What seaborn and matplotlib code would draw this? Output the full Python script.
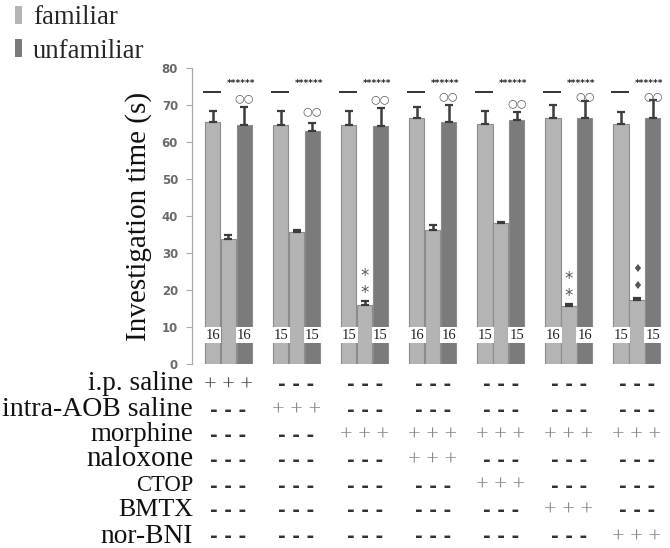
import matplotlib
matplotlib.use("Agg")
import matplotlib.pyplot as plt
import seaborn as sns
import pandas as pd
import numpy as np
from matplotlib.patches import Patch
from matplotlib.transforms import blended_transform_factory

# ---------------- data ----------------
groups = ["G1", "G2", "G3", "G4", "G5", "G6", "G7"]
conditions = ["familiar 1", "familiar 2", "unfamiliar"]
first_means = [65.3, 64.6, 64.6, 66.4, 65.0, 66.4, 64.8]
first_err = [3.2, 3.9, 3.9, 3.1, 3.5, 3.6, 3.2]
second_means = [33.8, 35.8, 15.9, 36.2, 38.0, 15.7, 17.3]
second_err = [1.2, 0.4, 1.2, 1.4, 0.3, 0.5, 0.5]
unfam_means = [64.6, 63.0, 64.3, 65.5, 66.0, 66.6, 66.4]
unfam_err = [4.8, 2.2, 4.8, 4.5, 2.0, 4.6, 5.0]
n_labels = ["16", "15", "15", "16", "15", "16", "15"]
second_marks = ["", "", "*", "", "", "*", "\u2666"]
yticks = [0, 10, 20, 30, 40, 50, 60, 70, 80]

row_labels = ["i.p. saline", "intra-AOB saline", "morphine", "naloxone",
              "CTOP", "BMTX", "nor-BNI"]
ip_saline = ["+", "-", "-", "-", "-", "-", "-"]
aob_saline = ["-", "+", "-", "-", "-", "-", "-"]
morphine = ["-", "-", "+", "+", "+", "+", "+"]
naloxone = ["-", "-", "-", "+", "-", "-", "-"]
ctop = ["-", "-", "-", "-", "+", "-", "-"]
bmtx = ["-", "-", "-", "-", "-", "+", "-"]
norbni = ["-", "-", "-", "-", "-", "-", "+"]
table_rows = [ip_saline, aob_saline, morphine, naloxone, ctop, bmtx, norbni]

LIGHT = "#b4b4b4"
DARK = "#7b7b7b"
SERIF = "Liberation Serif"

df = pd.DataFrame({
    "group": groups * 3,
    "condition": [conditions[0]] * 7 + [conditions[1]] * 7 + [conditions[2]] * 7,
    "value": first_means + second_means + unfam_means,
})
errs = [first_err, second_err, unfam_err]

sns.set_style("white")
W, H = 670, 548
fig = plt.figure(figsize=(W / 100, H / 100), dpi=100)
ax = fig.add_axes([192 / W, (H - 364) / H, (W - 192) / W, (364 - 68) / H])

palette = {conditions[0]: LIGHT, conditions[1]: LIGHT, conditions[2]: DARK}
sns.barplot(data=df, x="group", y="value", hue="condition",
            hue_order=conditions, order=groups, palette=palette,
            errorbar=None, width=0.7, gap=0.04, legend=False, ax=ax,
            edgecolor="#8c8c8c", linewidth=0.8, saturation=1)

bar_conts = list(ax.containers[:3])
for cont, e in zip(bar_conts, errs):
    xs = [b.get_x() + b.get_width() / 2 for b in cont]
    ys = [b.get_height() for b in cont]
    ax.errorbar(xs, ys, yerr=[np.zeros(len(e)), e], fmt="none",
                ecolor="#3c3c3c", elinewidth=1.8, capsize=3.2, capthick=1.6,
                zorder=3)

c1, c2, c3 = bar_conts
for i in range(len(groups)):
    b1, b2, b3 = c1[i], c2[i], c3[i]
    # n labels
    for b in (b1, b3):
        ax.text(b.get_x() + b.get_width() / 2, 7.8, n_labels[i],
                ha="center", va="center", fontsize=10.5, family=SERIF,
                color="#222222",
                bbox=dict(boxstyle="square,pad=0.1", fc="white", ec="none"),
                zorder=4)
    # significance line
    top = 73.6
    ax.plot([b1.get_x() - 0.03, b2.get_x()], [top, top],
            color="#333333", lw=1.4, solid_capstyle="butt")
    ax.text((b2.get_x() + b2.get_width() * 0.6 + b3.get_x() + b3.get_width()) / 2,
            75.8, "******", ha="center", va="center", fontsize=6.5,
            color="#222222", family="DejaVu Sans", fontweight="bold")
    oo_y = max(unfam_means[i] + unfam_err[i] + 2.4, 68.4)
    oo_y = min(oo_y, 72.3)
    ax.text(b3.get_x() + b3.get_width() / 2, oo_y, "\u25cb\u25cb",
            ha="center", va="center", fontsize=8, color="#555555",
            family="DejaVu Sans", fontweight="bold", zorder=5)
    if second_marks[i]:
        base = second_means[i] + second_err[i]
        fs = 12 if second_marks[i] == "*" else 8
        off = 2.2 if second_marks[i] == "*" else 3.3
        for k in range(2):
            ax.text(b2.get_x() + b2.get_width() / 2, base + off + k * 4.6,
                    second_marks[i], ha="center", va="center", fontsize=fs,
                    color="#555555", family="DejaVu Sans")

ax.set_ylim(0, 80)
ax.set_xlim(-0.536, 6.485)
ax.set_yticks(yticks)
ax.set_yticklabels([str(t) for t in yticks], fontsize=8.5, color="#6a6a6a",
                   fontweight="bold", family="DejaVu Sans")
ax.tick_params(axis="y", direction="out", length=4, width=0.8, color="#aaaaaa",
               pad=6, left=True)
ax.tick_params(axis="x", bottom=False, labelbottom=False)
ax.set_xlabel("")
ax.set_ylabel("Investigation time (s)", fontsize=21, family=SERIF,
              color="#111111", labelpad=7)
for s in ("top", "right", "bottom"):
    ax.spines[s].set_visible(False)
ax.spines["left"].set_color("#aaaaaa")
ax.spines["left"].set_linewidth(0.9)

# treatment table
trans = blended_transform_factory(ax.transData, fig.transFigure)
label_base = [390, 416, 441, 466, 491, 516, 543]
sym_y = [385, 410.5, 435.5, 460.5, 486, 510.5, 537]
row_sizes = [19.6, 20.0, 19.4, 21.0, 16.3, 18.7, 19.7]
for r, (lab, vals) in enumerate(zip(row_labels, table_rows)):
    fig.text(193 / W, 1 - label_base[r] / H, lab, ha="right", va="baseline",
             fontsize=row_sizes[r], family=SERIF, color="#111111")
    yf = 1 - sym_y[r] / H
    for i, v in enumerate(vals):
        if v == "+":
            ax.text(i, yf, "+ + +", transform=trans, ha="center", va="center",
                    fontsize=16, family=SERIF,
                    color=("#555555" if r == 0 else "#8c8c8c"), clip_on=False)
        else:
            ax.text(i, yf, "- - -", transform=trans, ha="center", va="center",
                    fontsize=13.5, family="DejaVu Sans", fontweight="bold",
                    color="#333333", clip_on=False)

# legend
handles = [Patch(facecolor=LIGHT, edgecolor="none"),
           Patch(facecolor=DARK, edgecolor="none")]
fig.legend(handles, ["familiar", "unfamiliar"], loc="upper left",
           bbox_to_anchor=(0.022, 1 - 5 / H), frameon=False,
           prop={"family": SERIF, "size": 19.3}, handlelength=0.27,
           handleheight=0.65, handletextpad=0.4, labelspacing=0.33,
           borderaxespad=0, borderpad=0.0)

fig.savefig("out.png", dpi=100)
